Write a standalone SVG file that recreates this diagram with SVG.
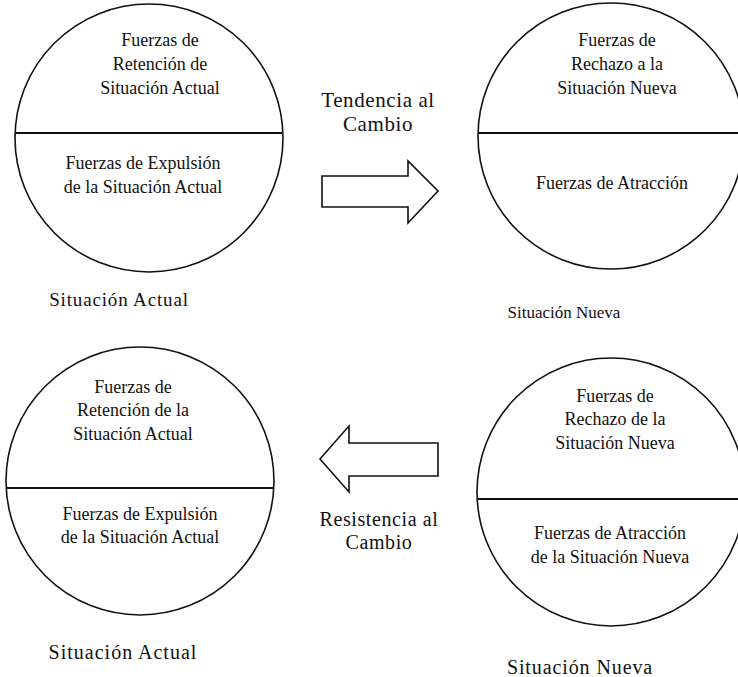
<svg xmlns="http://www.w3.org/2000/svg" width="738" height="677" viewBox="0 0 738 677">
<style>
.c{fill:none;stroke:#111;stroke-width:1.6}
.d{stroke:#111;stroke-width:2}
.t{font-family:"Liberation Serif","Times New Roman",serif;font-size:18px;fill:#111;text-anchor:middle}
.l{font-family:"Liberation Serif","Times New Roman",serif;font-size:19px;fill:#111;text-anchor:middle;letter-spacing:0.6px}
.a{fill:#fff;stroke:#111;stroke-width:1.6;stroke-linejoin:miter}
</style>
<rect width="738" height="677" fill="#fff"/>
<g id="actual-top">
<circle class="c" cx="149" cy="138" r="134"/>
<line class="d" x1="15" y1="133" x2="283" y2="133"/>
<text class="t" x="160" y="46">Fuerzas de</text>
<text class="t" x="160" y="70">Retención de</text>
<text class="t" x="160" y="94">Situación Actual</text>
<text class="t" x="143" y="169">Fuerzas de Expulsión</text>
<text class="t" x="143" y="193">de la Situación Actual</text>
<text class="l" x="119" y="306" style="letter-spacing:0.85px">Situación Actual</text>
</g>
<g id="nueva-top">
<circle class="c" cx="611" cy="136" r="133"/>
<line class="d" x1="478" y1="133" x2="738" y2="133"/>
<text class="t" x="617" y="46">Fuerzas de</text>
<text class="t" x="617" y="70">Rechazo a la</text>
<text class="t" x="617" y="94">Situación Nueva</text>
<text class="t" x="612" y="189">Fuerzas de Atracción</text>
<text class="l" x="564" y="318" style="font-size:17px;letter-spacing:0">Situación Nueva</text>
</g>
<g id="actual-bottom">
<circle class="c" cx="140" cy="481" r="134"/>
<line class="d" x1="6" y1="488" x2="274" y2="488"/>
<text class="t" x="133" y="393">Fuerzas de</text>
<text class="t" x="133" y="416">Retención de la</text>
<text class="t" x="133" y="440">Situación Actual</text>
<text class="t" x="140" y="520">Fuerzas de Expulsión</text>
<text class="t" x="140" y="543">de la Situación Actual</text>
<text class="l" x="123" y="659" style="font-size:20px;letter-spacing:1px">Situación Actual</text>
</g>
<g id="nueva-bottom">
<circle class="c" cx="611" cy="492" r="134"/>
<line class="d" x1="477" y1="499" x2="738" y2="499"/>
<text class="t" x="615" y="402">Fuerzas de</text>
<text class="t" x="615" y="425">Rechazo de la</text>
<text class="t" x="615" y="449">Situación Nueva</text>
<text class="t" x="610" y="539">Fuerzas de Atracción</text>
<text class="t" x="610" y="563">de la Situación Nueva</text>
<text class="l" x="580" y="674" style="font-size:20px;letter-spacing:0.9px">Situación Nueva</text>
</g>
<g id="connectors">
<polygon class="a" points="322,176 408,176 408,161 438,191 408,223 408,207 322,207"/>
<text class="l" x="378" y="107" style="font-size:21px">Tendencia al</text>
<text class="l" x="378" y="131" style="font-size:21px">Cambio</text>
<polygon class="a" points="438,443 349,443 349,426 320,459 349,492 349,476 438,476"/>
<text class="l" x="379" y="526" style="font-size:20px">Resistencia al</text>
<text class="l" x="379" y="549" style="font-size:20px">Cambio</text>
</g>
</svg>
